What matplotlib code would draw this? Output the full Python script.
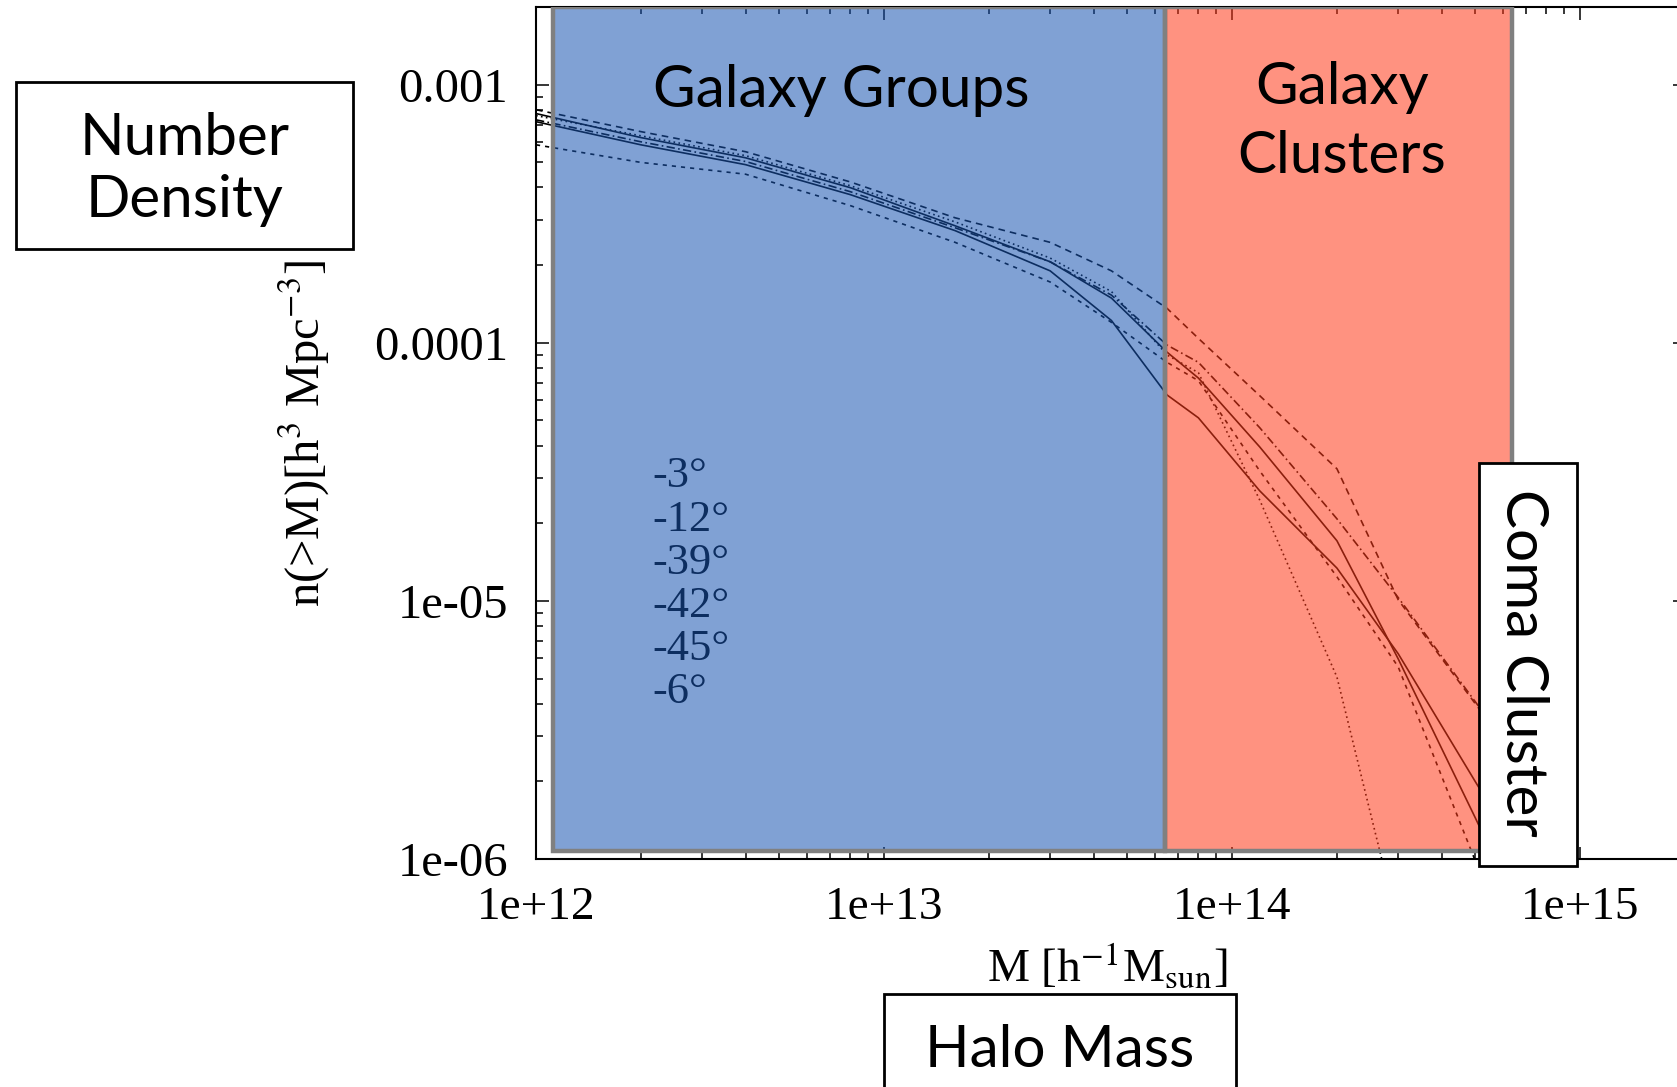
import numpy as np
import matplotlib
matplotlib.use("Agg")
import matplotlib.pyplot as plt
from matplotlib.patches import Rectangle
from matplotlib.ticker import FixedLocator, FixedFormatter, LogLocator, NullFormatter

plt.rcParams["font.family"] = ["Liberation Serif", "DejaVu Serif"]
plt.rcParams["mathtext.fontset"] = "stix"

# halo mass grid [h^-1 M_sun]
mass = [1e12, 2e12, 4e12, 8e12, 1.6e13, 3e13, 4.5e13, 6.5e13, 8e13, 1.2e14, 2e14, 3e14, 5e14, 7e14]

# cumulative number density n(>M) for each declination slice
n_m3 = [7.73e-4, 6.24e-4, 5.21e-4, 3.99e-4, 2.84e-4, 2.06e-4, 1.49e-4, 9.2e-5, 7.3e-5, 3.95e-5, 1.71e-5, 5.96e-6, 1.44e-6, 5.5e-7]
n_m12 = [8.0e-4, 6.58e-4, 5.5e-4, 4.2e-4, 3.05e-4, 2.45e-4, 1.9e-4, 1.36e-4, 1.04e-4, 6.24e-5, 3.25e-5, 1.01e-5, 3.99e-6, 2.17e-6]
n_m39 = [5.85e-4, 5.0e-4, 4.5e-4, 3.4e-4, 2.45e-4, 1.72e-4, 1.2e-4, 8.4e-5, 7.13e-5, 3.19e-5, 1.24e-5, 5.55e-6, 9.8e-7, 3.0e-7]
n_m42 = [7.59e-4, 6.34e-4, 5.31e-4, 4.06e-4, 2.94e-4, 2.13e-4, 1.58e-4, 8.97e-5, 7.66e-5, 2.46e-5, 5.07e-6, 5.5e-7, np.nan, np.nan]
n_m45 = [7.31e-4, 6.01e-4, 5.04e-4, 3.85e-4, 2.79e-4, 2.06e-4, 1.53e-4, 9.8e-5, 8.4e-5, 4.69e-5, 2.08e-5, 1.03e-5, 4.06e-6, 2.19e-6]
n_m6 = [7.19e-4, 5.85e-4, 4.9e-4, 3.75e-4, 2.72e-4, 1.9e-4, 1.22e-4, 6.28e-5, 5.12e-5, 2.67e-5, 1.34e-5, 6.24e-6, 1.99e-6, 9.5e-7]

slice_labels = ["-3°", "-12°", "-39°", "-42°", "-45°", "-6°"]
slice_data = [n_m3, n_m12, n_m39, n_m42, n_m45, n_m6]
slice_styles = ["-", (0, (4, 3)), (0, (2.5, 3)), (0, (1, 2)), (0, (5, 2, 1, 2)), "-"]

# mass ranges of the highlighted regions
groups_range = [1.12e12, 6.41e13]
clusters_range = [6.41e13, 6.38e14]

x_ticks = [1e12, 1e13, 1e14, 1e15]
x_ticklabels = ["1e+12", "1e+13", "1e+14", "1e+15"]
y_ticks = [1e-6, 1e-5, 1e-4, 1e-3]
y_ticklabels = ["1e-06", "1e-05", "0.0001", "0.001"]

W, H = 1677, 1087
fig = plt.figure(figsize=(W / 100, H / 100), dpi=100)
ax = fig.add_axes([536 / W, 228 / H, 1149 / W, 852 / H])

for vals, ls in zip(slice_data, slice_styles):
    ax.plot(mass, vals, color="black", lw=1.2, ls=ls, zorder=2)

ax.set_xscale("log")
ax.set_yscale("log")
ax.set_xlim(1e12, 2e15)
ax.set_ylim(1e-6, 2e-3)

ax.xaxis.set_major_locator(FixedLocator(x_ticks))
ax.xaxis.set_major_formatter(FixedFormatter(x_ticklabels))
ax.yaxis.set_major_locator(FixedLocator(y_ticks))
ax.yaxis.set_major_formatter(FixedFormatter(y_ticklabels))
for axis in (ax.xaxis, ax.yaxis):
    axis.set_minor_locator(LogLocator(base=10, subs=np.arange(2, 10)))
    axis.set_minor_formatter(NullFormatter())
ax.tick_params(which="both", direction="in", top=True, right=True, labelsize=34, width=1.1, pad=20)
ax.tick_params(axis="y", labelsize=35)
ax.tick_params(which="major", length=9)
ax.tick_params(which="minor", length=5)
for s in ax.spines.values():
    s.set_linewidth(1.5)

ax.set_ylabel(r"n(>M)[h$^{3}$ Mpc$^{-3}$]", fontsize=35)
ax.yaxis.set_label_coords(-0.1775, 0.5)
ax.set_xlabel(r"M [h$^{-1}$M$_{\rm sun}$]", fontsize=34)
ax.xaxis.set_label_coords(0.497, -0.128)
ax.xaxis.label.set_verticalalignment("center")

# key text (no samples visible)
for i, lab in enumerate(slice_labels):
    ax.text(0.101, 0.449 - i * 0.0507, lab, transform=ax.transAxes, fontsize=32,
            va="center", ha="left", zorder=3)

# translucent overlays
ax.axvspan(*groups_range, ymin=0.0094, ymax=1.0, facecolor=(24 / 255, 84 / 255, 177 / 255, 0.55),
           edgecolor="#808080", lw=3.2, zorder=4)
ax.axvspan(*clusters_range, ymin=0.0094, ymax=1.0, facecolor=(1.0, 57 / 255, 24 / 255, 0.55),
           edgecolor="#808080", lw=3.2, zorder=4)

sans = ["Lato", "DejaVu Sans"]


def box(x0, y0, x1, y1):
    # pixel box from top-left origin
    fig.add_artist(Rectangle((x0 / W, 1 - y1 / H), (x1 - x0) / W, (y1 - y0) / H,
                             transform=fig.transFigure, facecolor="white",
                             edgecolor="black", lw=2, zorder=5))


def label(x, y, s, **kw):
    fig.text(x / W, 1 - y / H, s, family=sans, fontsize=42, zorder=6, **kw)


label(841, 107, "Galaxy Groups", ha="center", va="baseline")
label(1342, 104, "Galaxy", ha="center", va="baseline")
label(1342, 173, "Clusters", ha="center", va="baseline")

box(16, 82, 353, 249)
label(185, 155, "Number", ha="center", va="baseline")
label(185, 217, "Density", ha="center", va="baseline")

box(884, 994, 1236, 1095)
label(1060, 1067, "Halo Mass", ha="center", va="baseline")

box(1479, 463, 1577, 866)
label(1523, 663, "Coma Cluster", ha="center", va="center", rotation=-90)

fig.savefig("out.png", dpi=100)
